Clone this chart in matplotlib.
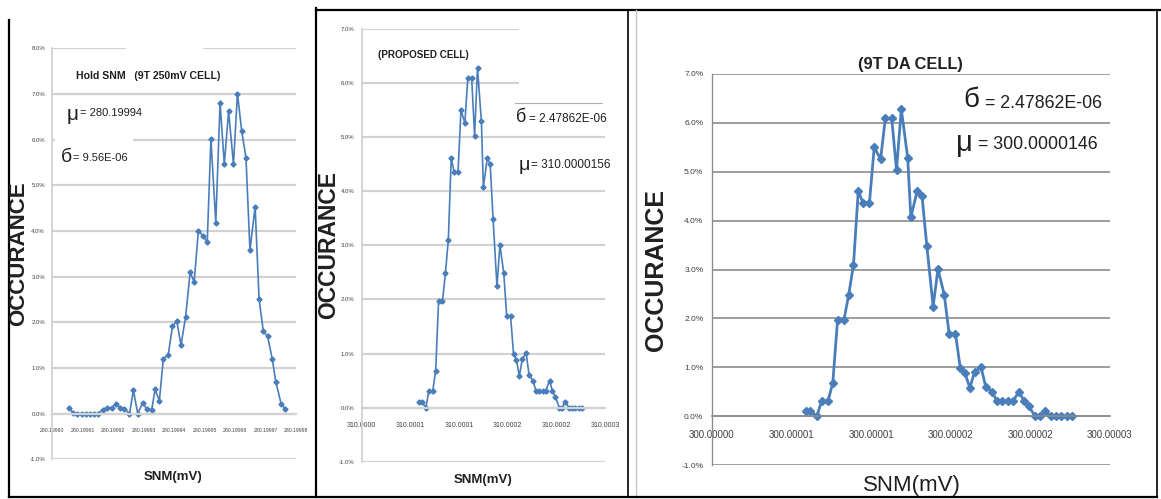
import matplotlib
matplotlib.use("Agg")
import matplotlib.pyplot as plt
from matplotlib.lines import Line2D
from matplotlib.patches import Rectangle
from matplotlib.ticker import FixedLocator, FixedFormatter

# ---------------- data ----------------
# Hold SNM, 9T 250mV cell: offsets from 280.19990 mV in units of 1e-6 mV
hold_offset = [5.7, 7.0, 8.3, 9.7, 11.2, 12.5, 13.9, 15.2, 16.6, 17.9,
               19.6, 21.0, 22.3, 23.7, 25.4, 26.7, 28.1, 29.7, 31.0, 32.7,
               33.8, 35.2, 36.5, 38.1, 39.5, 40.9, 42.3, 43.8, 45.3, 46.6,
               48.0, 49.4, 50.9, 52.1, 53.7, 55.1, 56.5, 57.9, 59.5, 60.8,
               62.2, 63.6, 64.9, 66.6, 67.9, 69.3, 70.7, 72.2, 73.4, 75.1,
               76.4]
hold_occ = [0.13, 0.01, 0.0, 0.0, 0.0, 0.0, 0.0, 0.0, 0.09, 0.13,
            0.13, 0.22, 0.13, 0.11, 0.0, 0.51, 0.0, 0.23, 0.11, 0.09,
            0.53, 0.28, 1.20, 1.29, 1.91, 2.03, 1.50, 2.12, 3.10, 2.88,
            4.01, 3.90, 3.76, 6.02, 4.18, 6.80, 5.46, 6.62, 5.46, 7.01,
            6.19, 5.60, 3.58, 4.53, 2.50, 1.80, 1.69, 1.20, 0.69, 0.22,
            0.11]

# Proposed / 9T DA cell: offsets from the axis base in units of 1e-6 mV
cell_offset = [5.9, 6.2, 6.6, 6.9, 7.3, 7.6, 7.9, 8.3, 8.6, 8.9,
               9.2, 9.5, 9.9, 10.2, 10.6, 10.9, 11.3, 11.6, 11.9, 12.3,
               12.5, 12.9, 13.2, 13.5, 13.9, 14.2, 14.6, 14.9, 15.3, 15.6,
               15.9, 16.2, 16.5, 16.9, 17.2, 17.6, 17.9, 18.2, 18.6, 18.9,
               19.3, 19.6, 19.9, 20.3, 20.6, 20.9, 21.3, 21.6, 21.9, 22.3,
               22.6]
cell_occ = [0.10, 0.10, 0.0, 0.31, 0.31, 0.68, 1.97, 1.97, 2.48, 3.10,
            4.61, 4.36, 4.36, 5.50, 5.26, 6.09, 6.09, 5.03, 6.28, 5.29,
            4.07, 4.61, 4.51, 3.49, 2.24, 3.01, 2.48, 1.69, 1.69, 0.99,
            0.88, 0.58, 0.90, 1.01, 0.60, 0.50, 0.31, 0.31, 0.31, 0.31,
            0.50, 0.31, 0.20, 0.0, 0.0, 0.10, 0.0, 0.0, 0.0, 0.0,
            0.0]

hold_base = 280.19990
hold_ticks = ["280.19990", "280.19991", "280.19992", "280.19993", "280.19994",
              "280.19995", "280.19996", "280.19997", "280.19998"]
prop_base = 310.0
prop_ticks = ["310.0000", "310.0001", "310.0001", "310.0002", "310.0002", "310.0003"]
da_base = 300.0
da_ticks = ["300.00000", "300.00001", "300.00001", "300.00002", "300.00002", "300.00003"]

hold_title = "Hold SNM   (9T 250mV CELL)"
prop_title = "(PROPOSED CELL)"
da_title = "(9T DA CELL)"
hold_mu, hold_sigma = "= 280.19994", "= 9.56E-06"
prop_mu, prop_sigma = "= 310.0000156", "= 2.47862E-06"
da_mu, da_sigma = "= 300.0000146", "= 2.47862E-06"

# ---------------- figure ----------------
W, H = 1161, 499
SANS = ["Liberation Sans", "DejaVu Sans"]
plt.rcParams["font.family"] = SANS
fig = plt.figure(figsize=(W / 100, H / 100), dpi=100)
fig.patch.set_facecolor("white")

BLUE = "#4a7ebb"
INK = "#202020"


def fx(x):
    return x / W


def fy(y):
    return 1 - y / H


def axes_px(x0, y0, x1, y1):
    return fig.add_axes([fx(x0), fy(y1), fx(x1) - fx(x0), fy(y0) - fy(y1)])


def ftext(x, y, s, **kw):
    fig.text(fx(x), fy(y), s, **kw)


def fline(x0, y0, x1, y1, **kw):
    fig.add_artist(Line2D([fx(x0), fx(x1)], [fy(y0), fy(y1)],
                          transform=fig.transFigure, **kw))


def fwhite(x0, y0, x1, y1, z=5):
    fig.add_artist(Rectangle((fx(x0), fy(y1)), fx(x1) - fx(x0), fy(y0) - fy(y1),
                             transform=fig.transFigure, facecolor="white",
                             edgecolor="none", zorder=z))


def style_axes(ax, ymin, ymax, xs, labels, grid_color, grid_lw,
               xfs, yfs, xpad, ypad):
    ax.set_ylim(ymin, ymax)
    ax.set_xlim(xs[0], xs[-1])
    ax.set_yticks(range(ymin, ymax + 1))
    ax.set_yticklabels([f"{v:.1f}%" for v in range(ymin, ymax + 1)])
    ax.xaxis.set_major_locator(FixedLocator(xs))
    ax.xaxis.set_major_formatter(FixedFormatter(labels))
    ax.tick_params(axis="x", length=0, pad=xpad, labelsize=xfs, labelcolor="#404040")
    ax.tick_params(axis="y", length=0, pad=ypad, labelsize=yfs, labelcolor="#404040")
    ax.grid(axis="y", color=grid_color, lw=grid_lw)
    ax.set_axisbelow(True)
    for s in ("top", "right"):
        ax.spines[s].set_visible(False)
    ax.spines["left"].set_color(grid_color)
    ax.spines["left"].set_linewidth(grid_lw * 0.8)
    ax.spines["bottom"].set_position(("data", 0))
    ax.spines["bottom"].set_color(grid_color)
    ax.spines["bottom"].set_linewidth(grid_lw)
    ax.patch.set_alpha(0)


# ---- panel 1: Hold SNM ----
ax1 = axes_px(52, 48.3, 296, 459.3)
x1 = [hold_base + o * 1e-6 for o in hold_offset]
ax1.plot(x1, hold_occ, color=BLUE, lw=1.2, marker="D", ms=2.6, mec=BLUE)
style_axes(ax1, -1, 8, [hold_base + k * 1e-5 for k in range(len(hold_ticks))],
           hold_ticks, "#d2d2d2", 1.6, 3.7, 4.3, 10, 5)

# ---- panel 2: proposed cell ----
ax2 = axes_px(361.7, 29, 605, 461.7)
x2 = [prop_base + o * 1e-6 for o in cell_offset]
ax2.plot(x2, cell_occ, color=BLUE, lw=1.2, marker="D", ms=2.6, mec=BLUE)
style_axes(ax2, -1, 7, [prop_base + k * 5e-6 for k in range(len(prop_ticks))],
           prop_ticks, "#d2d2d2", 1.6, 5.0, 4.3, 10, 5)

# ---- panel 3: 9T DA cell ----
ax3 = axes_px(711.7, 74, 1110, 465)
x3 = [da_base + o * 1e-6 for o in cell_offset]
ax3.plot(x3, cell_occ, color=BLUE, lw=2.0, marker="D", ms=3.6, mec=BLUE)
style_axes(ax3, -1, 7, [da_base + k * 5e-6 for k in range(len(da_ticks))],
           da_ticks, "#8c8c8c", 1.2, 7.0, 6.0, 10, 6)

# text boxes that sit over the gridlines
fwhite(126, 40, 203, 56)
fwhite(55, 100, 133, 170)
fwhite(519, 20, 610, 100)

# ---- panel 1 labels ----
ftext(148, 76, hold_title, ha="center", va="center", fontsize=7.6,
      fontweight="bold", color=INK, zorder=6)
ftext(73, 114, "μ", ha="center", va="center", fontsize=15, color=INK, zorder=6)
ftext(80, 113, hold_mu, ha="left", va="center", fontsize=8, color=INK, zorder=6)
ftext(66, 157, "б", ha="center", va="center", fontsize=14, color=INK, zorder=6)
ftext(73, 158, hold_sigma, ha="left", va="center", fontsize=8, color=INK, zorder=6)
ftext(19, 254, "OCCURANCE", ha="center", va="center", rotation=90, fontsize=16,
      fontweight="bold", color=INK)
ftext(173, 477, "SNM(mV)", ha="center", va="center", fontsize=9.5,
      fontweight="bold", color=INK)

# ---- panel 2 labels ----
ftext(423, 55, prop_title, ha="center", va="center", fontsize=7.1,
      fontweight="bold", color=INK, zorder=6)
fline(515, 103, 602, 103, color="#b0b0b0", lw=0.8, zorder=6)
ftext(521, 118, "б", ha="center", va="center", fontsize=13, color=INK, zorder=6)
ftext(529, 119, prop_sigma, ha="left", va="center", fontsize=8.5, color=INK, zorder=6)
ftext(524, 165, "μ", ha="center", va="center", fontsize=14, color=INK, zorder=6)
ftext(531, 165, prop_mu, ha="left", va="center", fontsize=8.5, color=INK, zorder=6)
ftext(329, 245, "OCCURANCE", ha="center", va="center", rotation=90, fontsize=16.5,
      fontweight="bold", color=INK)
ftext(483, 480, "SNM(mV)", ha="center", va="center", fontsize=9.5,
      fontweight="bold", color=INK)

# ---- panel 3 labels ----
ftext(910, 64, da_title, ha="center", va="center", fontsize=11.8,
      fontweight="bold", color=INK, zorder=6)
ftext(971, 100, "б", ha="center", va="center", fontsize=20, color=INK, zorder=6)
ftext(985, 103, da_sigma, ha="left", va="center", fontsize=12.8, color=INK, zorder=6)
ftext(964, 143, "μ", ha="center", va="center", fontsize=21, color=INK, zorder=6)
ftext(978, 144, da_mu, ha="left", va="center", fontsize=12.8, color=INK, zorder=6)
ftext(656, 270, "OCCURANCE", ha="center", va="center", rotation=90, fontsize=18,
      fontweight="bold", color=INK)
ftext(912, 485, "SNM(mV)", ha="center", va="center", fontsize=16, color=INK)

# ---- panel frames ----
fline(9, 20, 9, 497, color="black", lw=1.6)
fline(316, 8, 316, 497, color="black", lw=1.6)
fline(316, 10, 1161, 10, color="black", lw=1.6)
fline(628, 10, 628, 497, color="black", lw=1.2)
fline(636, 10, 636, 497, color="#c8c8c8", lw=1.0)
fline(1157, 10, 1157, 497, color="black", lw=1.2)
fline(9, 497, 1157, 497, color="black", lw=1.6)

fig.savefig("out.png", dpi=100, facecolor="white")
